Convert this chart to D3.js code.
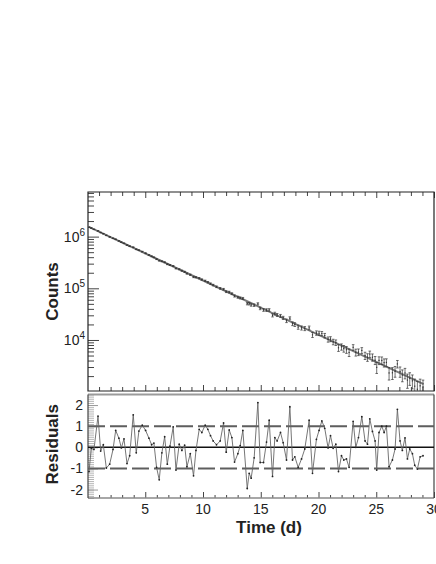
<!DOCTYPE html>
<html><head><meta charset="utf-8">
<script src="https://cdn.jsdelivr.net/npm/d3@7"></script>
<style>
body{margin:0;background:#fff}
svg{display:block}
text{font-family:"Liberation Sans",Arial,sans-serif;fill:#222}
</style>
</head><body>
<svg id="c" width="436" height="564"></svg>
<script>
// ---- data ----
const times = [0.13,0.33,0.56,0.91,1.14,1.37,1.63,1.92,2.21,2.44,
2.72,2.93,3.16,3.42,3.65,3.96,4.22,4.45,4.74,5.03,
5.32,5.55,5.75,5.98,6.21,6.44,6.68,6.91,7.14,7.42,
7.66,7.94,8.17,8.41,8.61,8.9,9.18,9.39,9.67,9.9,
10.19,10.42,10.65,10.88,11.17,11.49,11.78,12.01,12.27,12.5,
12.73,13.02,13.22,13.45,13.83,14.0,14.17,14.43,14.75,14.95,
15.24,15.5,15.73,16.02,16.22,16.42,16.71,16.94,17.23,17.52,
17.75,17.95,18.24,18.53,18.81,19.19,19.48,19.82,20.05,20.29,
20.54,20.83,21.04,21.27,21.5,21.73,21.99,22.19,22.42,22.65,
23.0,23.23,23.46,23.75,24.03,24.24,24.44,24.67,24.9,25.04,
25.24,25.48,25.68,25.88,26.11,26.4,26.63,26.83,27.06,27.26,
27.49,27.7,27.9,28.13,28.33,28.56,28.8,29.05];

const counts = [1519000,1462000,1383000,1291000,1201000,1139000,1057000,987000,927800,887300,
825600,780200,742400,686000,652000,622200,569000,547000,512400,476100,
441100,415100,396200,366700,342600,332400,318500,293000,282300,269400,
242500,233200,219100,208000,193000,182800,165700,163000,156900,147800,
139400,131100,122900,115400,107000,99620,95910,86110,84310,78670,
70820,67160,65090,63640,50610,50390,47700,47120,49990,40950,
38130,37930,38140,30040,32350,30510,29250,26790,23510,26310,
20660,19920,17740,17110,16670,17150,12570,13660,13470,13320,
12150,10260,10420,9200,8920,7070,7370,6815,6480,5730,
7210,5765,5840,6280,4990,4640,5330,4626,4067,2957,
4030,4018,3648,3677,2301,2319,2487,3441,2450,2095,
2295,1674,1824,1618,1276,1113,1298,1238];

const countErrors = [14400,14030,13650,13080,12720,12370,11990,11580,11180,10870,
10510,10250,9970,9660,9390,9050,8770,8530,8230,7950,
7680,7470,7290,7090,6890,6710,6510,6330,6160,5960,
5790,5590,5440,5280,5160,4980,4810,4690,4540,4410,
4260,4140,4030,3920,3790,3640,3520,3420,3310,3220,
3130,3030,2950,2870,2740,2690,2630,2550,2450,2400,
2310,2240,2180,2110,2060,2010,1940,1880,1820,1760,
1710,1670,1610,1550,1500,1440,1390,1330,1290,1260,
1220,1180,1150,1120,1090,1060,1020,1000,970,945,
906,881,857,827,800,780,761,740,720,708,
691,671,655,639,622,600,584,570,554,541,
526,513,501,487,475,462,449,436];

const residuals = [-1.15,-0.05,-0.1,1.48,-0.18,0.12,-0.98,-0.8,-0.1,0.8,
0.43,-0.03,0.4,-0.77,-0.4,1.54,-0.26,0.77,1.05,0.8,
0.43,0.12,0.2,-0.95,-1.54,-0.26,0.5,-0.8,0.05,0.97,
-1.08,0.15,-0.15,0.1,-0.92,-0.3,-1.35,-0.15,0.85,0.7,
1.05,0.85,0.55,0.3,0.12,0.3,1.15,-0.23,0.82,0.46,
-0.7,-0.3,0.08,0.8,-1.95,-1.23,-1.46,-0.5,2.12,-0.72,
-0.72,0.25,1.28,-1.38,0.46,0.3,0.7,0.22,-0.6,1.92,
-0.6,-0.45,-0.95,-0.55,-0.08,1.28,-1.23,0.38,0.8,1.25,
0.9,-0.03,0.55,-0.05,0.15,-1.15,-0.4,-0.6,-0.55,-0.95,
1.23,0.0,0.46,1.45,0.3,0.15,1.35,0.75,0.3,-1.08,
0.7,1.0,0.7,1.0,-0.92,-0.6,-0.08,1.8,0.3,-0.15,
0.45,-0.55,-0.08,-0.3,-0.85,-1.03,-0.45,-0.4];

const fitTimes = [0, 29.1];
const fitCounts = [1585000, 1395];

const xMajorTicks = [5, 10, 15, 20, 25, 30];
const xMinorTicks = [1,2,3,4,6,7,8,9,11,12,13,14,16,17,18,19,21,22,23,24,26,27,28,29];
const yMajorTicks = [1e4, 1e5, 1e6];
const yMajorExp = ["4", "5", "6"];
const resTicks = [-2, -1, 0, 1, 2];
const resDashed = [-1, 1];

// ---- layout ----
const L = 88, R = 434, T1 = 192, B1 = 391, T2 = 394.5, B2 = 498;
const svg = d3.select("#c");
const x = d3.scaleLinear().domain([0, 30]).range([87.5, 434]);
const y = d3.scaleLog().domain([1030, 7.3e6]).range([B1, T1]);
const yr = d3.scaleLinear().domain([-2.4, 2.5]).range([B2, T2]);

const defs = svg.append("defs");
defs.append("clipPath").attr("id", "clipTop").append("rect")
  .attr("x", L).attr("y", T1).attr("width", R - L).attr("height", B1 - T1);
defs.append("clipPath").attr("id", "clipRes").append("rect")
  .attr("x", L).attr("y", T2).attr("width", R - L).attr("height", B2 - T2);

function noDomain(g){ g.select(".domain").remove(); }

// ---- upper panel ticks ----
const yMinor = y.ticks().filter(v => Math.abs(Math.log10(v) - Math.round(Math.log10(v))) > 1e-6);
svg.append("g").attr("transform", `translate(${L},0)`)
  .call(d3.axisLeft(y).tickValues(yMinor).tickSize(-6).tickFormat(""))
  .call(noDomain).selectAll("line").attr("stroke", "#444");
svg.append("g").attr("transform", `translate(${L},0)`)
  .call(d3.axisLeft(y).tickValues(yMajorTicks).tickSize(-11).tickFormat(""))
  .call(noDomain).selectAll("line").attr("stroke", "#444");
yMajorTicks.forEach((v, i) => {
  const t = svg.append("text").attr("x", 85).attr("y", y(v) + 5)
    .attr("text-anchor", "end").attr("font-size", 14);
  t.append("tspan").text("10");
  t.append("tspan").attr("dy", -6).attr("font-size", 10).text(yMajorExp[i]);
});
svg.append("g").attr("transform", `translate(0,${T1})`)
  .call(d3.axisTop(x).tickValues(xMinorTicks).tickSize(-4).tickFormat(""))
  .call(noDomain).selectAll("line").attr("stroke", "#444");
svg.append("g").attr("transform", `translate(0,${T1})`)
  .call(d3.axisTop(x).tickValues(xMajorTicks).tickSize(-6).tickFormat(""))
  .call(noDomain).selectAll("line").attr("stroke", "#444");
svg.append("g").attr("transform", `translate(0,${B1})`)
  .call(d3.axisBottom(x).tickValues(xMinorTicks).tickSize(-4).tickFormat(""))
  .call(noDomain).selectAll("line").attr("stroke", "#444");
svg.append("g").attr("transform", `translate(0,${B1})`)
  .call(d3.axisBottom(x).tickValues(xMajorTicks).tickSize(-6).tickFormat(""))
  .call(noDomain).selectAll("line").attr("stroke", "#444");

svg.append("path").attr("d", `M${L},${B1}V${T1}H${R}V${B1}Z`)
  .attr("fill", "none").attr("stroke", "#222").attr("stroke-width", 1.2);

// fit line
const gTop = svg.append("g").attr("clip-path", "url(#clipTop)");
const fitLine = d3.line().x((d, i) => x(fitTimes[i])).y(d => y(d));
gTop.append("path").datum(fitCounts).attr("d", fitLine)
  .attr("fill", "none").attr("stroke", "#7a7a7a").attr("stroke-width", 2);

// error bars + points
const pts = times.map((t, i) => ({t, c: counts[i], e: countErrors[i]}));
const eb = gTop.append("g").attr("stroke", "#333").attr("stroke-width", 0.7).attr("fill", "none");
eb.selectAll("path").data(pts).join("path")
  .attr("d", d => {
    const xx = x(d.t), y1 = y(Math.max(d.c - d.e, 1)), y2 = y(d.c + d.e);
    return `M${xx},${y1}V${y2}M${xx - 1.3},${y1}H${xx + 1.3}M${xx - 1.3},${y2}H${xx + 1.3}`;
  });
gTop.append("g").selectAll("rect").data(pts).join("rect")
  .attr("x", d => x(d.t) - 0.6).attr("y", d => y(d.c) - 0.6)
  .attr("width", 1.2).attr("height", 1.2).attr("fill", "#333");

// ---- residual panel ----
svg.append("g").attr("transform", `translate(${L},0)`)
  .call(d3.axisLeft(yr).tickValues(yr.ticks(50)).tickSize(-6).tickFormat(""))
  .call(noDomain).selectAll("line").attr("stroke", "#b4b4b4");
svg.append("g").attr("transform", `translate(${L},0)`)
  .call(d3.axisLeft(yr).tickValues(resTicks).tickSize(-10).tickFormat(""))
  .call(noDomain).selectAll("line").attr("stroke", "#999");
resTicks.forEach(v => {
  svg.append("text").attr("x", 83).attr("y", yr(v) + 5)
    .attr("text-anchor", "end").attr("font-size", 14).text(String(v));
});
svg.append("g").attr("transform", `translate(0,${B2})`)
  .call(d3.axisBottom(x).tickValues(xMinorTicks).tickSize(-3).tickFormat(""))
  .call(noDomain).selectAll("line").attr("stroke", "#444");
svg.append("g").attr("transform", `translate(0,${B2})`)
  .call(d3.axisBottom(x).tickValues(xMajorTicks).tickSize(-6).tickFormat(""))
  .call(noDomain).selectAll("line").attr("stroke", "#444");
xMajorTicks.forEach(v => {
  svg.append("text").attr("x", x(v)).attr("y", 514)
    .attr("text-anchor", "middle").attr("font-size", 14).text(String(v));
});

svg.append("line").attr("x1", L).attr("x2", R).attr("y1", T2).attr("y2", T2)
  .attr("stroke", "#9a9a9a").attr("stroke-width", 2);
svg.append("line").attr("x1", L).attr("x2", R).attr("y1", B2).attr("y2", B2)
  .attr("stroke", "#8a8a8a").attr("stroke-width", 1.5);
svg.append("line").attr("x1", L).attr("x2", L).attr("y1", T2).attr("y2", B2)
  .attr("stroke", "#444").attr("stroke-width", 1.2);
svg.append("line").attr("x1", R).attr("x2", R).attr("y1", T2).attr("y2", B2)
  .attr("stroke", "#444").attr("stroke-width", 1.2);

const gRes = svg.append("g").attr("clip-path", "url(#clipRes)");
gRes.selectAll("line.dash").data(resDashed).join("line").attr("class", "dash")
  .attr("x1", L).attr("x2", R).attr("y1", d => yr(d)).attr("y2", d => yr(d))
  .attr("stroke", "#5e5e5e").attr("stroke-width", 2).attr("stroke-dasharray", "17,5");
gRes.append("line").attr("x1", L).attr("x2", R).attr("y1", yr(0)).attr("y2", yr(0))
  .attr("stroke", "#111").attr("stroke-width", 1.4);

const resLine = d3.line().x((d, i) => x(times[i])).y(d => yr(d));
gRes.append("path").datum(residuals).attr("d", resLine)
  .attr("fill", "none").attr("stroke", "#666").attr("stroke-width", 0.9);
gRes.append("g").selectAll("circle").data(residuals).join("circle")
  .attr("cx", (d, i) => x(times[i])).attr("cy", d => yr(d)).attr("r", 0.9)
  .attr("fill", "#222");

// ---- axis titles ----
svg.append("text").attr("transform", `translate(58,${(T1 + B1) / 2}) rotate(-90)`)
  .attr("text-anchor", "middle").attr("font-size", 17).attr("font-weight", "bold").text("Counts");
svg.append("text").attr("transform", `translate(58,${(T2 + B2) / 2 - 2}) rotate(-90)`)
  .attr("text-anchor", "middle").attr("font-size", 17).attr("font-weight", "bold").text("Residuals");
svg.append("text").attr("x", 269).attr("y", 533)
  .attr("text-anchor", "middle").attr("font-size", 17).attr("font-weight", "bold").text("Time (d)");
</script>
</body></html>
